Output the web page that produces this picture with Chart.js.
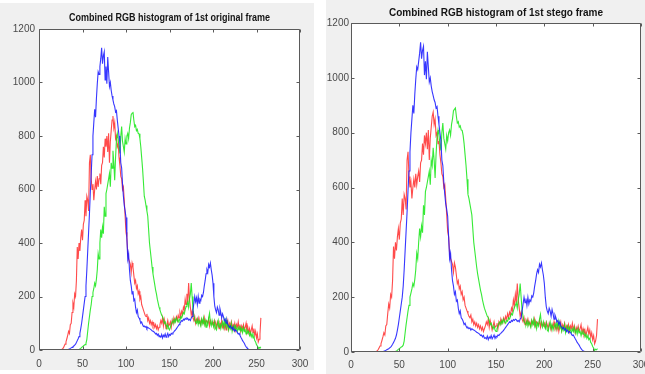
<!DOCTYPE html>
<html>
<head>
<meta charset="utf-8">
<script src="https://cdn.jsdelivr.net/npm/chart.js@4/dist/chart.umd.min.js"></script>
<style>
  html, body { margin: 0; padding: 0; background: #ffffff; width: 645px; height: 374px; overflow: hidden; }
  .panel { position: absolute; background: #f0f0f0; }
  #p1 { left: 0px; top: 3px; width: 314px; height: 367px; }
  #p2 { left: 326px; top: 0px; width: 319px; height: 374px; }
</style>
</head>
<body>
<div class="panel" id="p1"><canvas id="c1" width="314" height="367"></canvas></div>
<div class="panel" id="p2"><canvas id="c2" width="319" height="374"></canvas></div>
<script>
// ---- Data (pixel counts per intensity level 0..255) ----
const titles = ["Combined RGB histogram of 1st original frame", "Combined RGB histogram of 1st stego frame"];
const xTicks = [0, 50, 100, 150, 200, 250, 300];
const yTicks = [0, 200, 400, 600, 800, 1000, 1200];

const redCounts = [
  0,0,0,0,0,0,0,0,0,0, 0,0,0,0,0,0,0,0,0,0, 0,0,0,0,0,0,2,4,8,15,
  22,30,42,55,70,62,95,100,140,175, 160,210,200,260,385,340,400,370,420,450,
  410,470,485,560,500,575,560,520,700,730, 640,600,620,560,600,630,600,650,610,640,
  660,620,690,700,760,720,790,760,800,740, 810,700,780,820,860,875,830,850,790,800,
  760,770,720,690,650,640,600,610,560,500, 440,420,360,340,330,320,290,325,310,280,
  250,260,230,240,210,220,190,200,170,160, 150,140,130,125,135,110,120,100,110,95,
  105,90,100,85,95,80,90,75,85,95, 110,100,120,90,115,100,80,95,110,90,
  95,105,85,110,100,120,105,115,125,110, 130,120,140,125,145,135,160,150,190,170,
  210,180,250,190,160,130,145,120,110,125, 100,115,105,120,100,110,95,115,105,100,
  120,95,110,105,100,115,90,110,100,95, 105,90,110,100,85,105,95,80,100,90,
  110,85,95,80,100,75,95,110,80,100, 90,105,80,95,85,100,75,95,85,105,
  80,95,70,90,80,95,75,85,100,70, 85,65,80,60,75,90,65,80,55,70,
  45,60,30,40,60,120
];

const greenCounts = [
  0,0,0,0,0,0,0,0,0,0, 0,0,0,0,0,0,0,0,0,0, 0,0,0,0,0,0,0,0,0,0,
  0,0,0,0,0,0,0,0,0,0, 0,0,0,0,0,1,2,4,6,10,
  12,15,18,20,25,40,70,100,125,150, 170,200,215,230,250,240,265,300,360,340,
  400,450,420,460,435,535,500,585,600,620, 640,660,610,700,680,745,700,635,720,785,
  810,790,760,735,800,835,780,760,740,790, 770,800,810,790,830,850,880,885,890,860,
  835,840,820,825,810,808,790,760,720,680, 630,575,560,540,520,500,450,400,370,340,
  310,285,265,245,225,210,190,175,160,150, 140,130,125,115,100,105,93,85,95,80,
  75,85,95,105,110,100,115,105,120,110, 105,115,112,125,120,130,140,135,150,162,
  170,180,160,190,210,250,200,150,130,112, 105,100,115,95,110,100,90,115,100,120,
  95,110,85,105,95,120,137,100,90,110, 95,85,105,80,75,95,110,85,100,80,
  95,105,85,110,90,112,85,95,75,90, 80,100,70,85,95,75,90,80,70,85,
  75,90,70,80,65,85,70,75,60,75, 65,70,55,65,50,60,45,50,35,30,
  20,15,5,10,8,12
];

const blueCounts = [
  0,0,0,0,0,0,0,0,0,0, 0,0,0,0,0,0,0,0,0,0, 0,0,0,0,0,0,0,0,0,0,
  0,1,1,2,3,4,6,8,10,12, 15,18,22,28,35,42,50,62,80,100,
  125,150,175,200,240,300,370,440,510,590, 660,730,800,850,900,870,940,995,1040,1030,
  1060,1090,1130,1070,1100,1115,1010,1060,995,1095, 1040,985,1000,970,950,935,920,910,890,895,
  860,830,800,770,700,680,620,575,540,520, 495,420,340,360,300,260,240,210,220,185,
  190,160,140,150,125,120,112,100,105,95, 88,90,85,88,80,85,82,80,78,75,
  72,70,68,65,60,62,55,60,50,52, 48,58,45,55,50,60,48,55,62,50,
  58,55,62,60,65,68,72,75,80,85, 90,95,100,105,110,108,115,112,118,115,
  120,118,112,115,110,120,125,150,175,200, 180,195,170,200,175,190,185,205,200,215,
  240,260,285,300,290,320,310,325,300,280, 250,200,165,150,140,160,150,130,155,140,
  120,135,125,110,115,100,110,95,90,85, 90,80,85,75,80,70,75,72,65,60,
  62,55,48,42,35,30,25,18,12,8, 5,3,2,1,0,0,0,0,0,0,
  0,0,0,0,0,0
];

// ---- Chart setup ----
function pts(arr) { return arr.map((v, i) => ({ x: i, y: v })); }

const frameColor = '#5a5a5a';
const panelPlugin = {
  id: 'panelFrame',
  beforeDraw(chart) {
    const ctx = chart.ctx, a = chart.chartArea;
    ctx.save();
    ctx.fillStyle = '#f0f0f0';
    ctx.fillRect(0, 0, chart.width, chart.height);
    ctx.fillStyle = '#ffffff';
    ctx.fillRect(a.left, a.top, a.right - a.left, a.bottom - a.top);
    ctx.restore();
  },
  afterDraw(chart, args, opts) {
    const ctx = chart.ctx, a = chart.chartArea;
    const xs = chart.scales.x, ys = chart.scales.y;
    const L = Math.round(a.left) + 0.5, R = Math.round(a.right) - 0.5;
    const T = Math.round(a.top) + 0.5, B = Math.round(a.bottom) - 0.5;
    ctx.save();
    ctx.strokeStyle = frameColor;
    ctx.lineWidth = 1;
    ctx.beginPath();
    ctx.rect(L, T, R - L, B - T);
    const tl = 3;
    xs.ticks.forEach(t => {
      const px = Math.round(xs.getPixelForValue(t.value)) + 0.5;
      ctx.moveTo(px, B); ctx.lineTo(px, B - tl);
      ctx.moveTo(px, T); ctx.lineTo(px, T + tl);
    });
    ys.ticks.forEach(t => {
      const py = Math.round(ys.getPixelForValue(t.value)) + 0.5;
      ctx.moveTo(L, py); ctx.lineTo(L + tl, py);
      ctx.moveTo(R, py); ctx.lineTo(R - tl, py);
    });
    ctx.stroke();
    // title (condensed horizontally like the reference)
    ctx.font = "bold 10.5px 'Liberation Sans', Arial, sans-serif";
    ctx.fillStyle = '#141414';
    ctx.textAlign = 'center';
    ctx.textBaseline = 'alphabetic';
    const w = ctx.measureText(opts.text).width;
    const sx = opts.width / w;
    const cx = (a.left + a.right) / 2;
    ctx.translate(cx, opts.baseline);
    ctx.scale(sx, 1);
    ctx.fillText(opts.text, 0, 0);
    ctx.restore();
  }
};

const tickFont = { family: "'Liberation Sans', Arial, sans-serif", size: 10 };

function makeChart(canvasId, title, cfg) {
  new Chart(document.getElementById(canvasId), {
    type: 'line',
    data: {
      datasets: [
        { label: 'Blue', data: pts(blueCounts), borderColor: 'rgba(20,20,255,0.85)', borderWidth: 1.1, pointRadius: 0, tension: 0 },
        { label: 'Green', data: pts(greenCounts), borderColor: 'rgba(20,230,20,0.85)', borderWidth: 1.1, pointRadius: 0, tension: 0 },
        { label: 'Red', data: pts(redCounts), borderColor: 'rgba(255,30,30,0.8)', borderWidth: 1.1, pointRadius: 0, tension: 0 }
      ]
    },
    options: {
      responsive: false,
      animation: false,
      devicePixelRatio: 1,
      layout: { padding: { left: 0, right: cfg.padRight, top: cfg.padTop, bottom: 0 } },
      plugins: {
        legend: { display: false },
        tooltip: { enabled: false },
        title: { display: false },
        panelFrame: { text: title, width: cfg.titleWidth, baseline: cfg.titleBaseline }
      },
      scales: {
        x: {
          type: 'linear', min: 0, max: 300,
          afterBuildTicks(s) { s.ticks = xTicks.map(v => ({ value: v })); },
          afterFit(s) { s.height = cfg.xHeight; s.paddingLeft = 0; s.paddingRight = 0; },
          grid: { display: false, drawTicks: false },
          border: { display: false },
          ticks: { color: '#4a4a4a', font: tickFont, padding: cfg.xPad, maxRotation: 0, autoSkip: false, callback: v => String(v) }
        },
        y: {
          type: 'linear', min: 0, max: 1200,
          afterBuildTicks(s) { s.ticks = yTicks.map(v => ({ value: v })); },
          afterFit(s) { s.width = cfg.yWidth; s.paddingTop = 0; s.paddingBottom = 0; },
          grid: { display: false, drawTicks: false },
          border: { display: false },
          ticks: { color: '#4a4a4a', font: tickFont, padding: cfg.yPad, autoSkip: false, callback: v => String(v) }
        }
      }
    },
    plugins: [panelPlugin]
  });
}

makeChart('c1', titles[0], { padRight: 14, padTop: 26, xHeight: 20, yWidth: 39, xPad: 8, yPad: 4, titleWidth: 201, titleBaseline: 18 });
makeChart('c2', titles[1], { padRight: 4, padTop: 23, xHeight: 22, yWidth: 25, xPad: 7, yPad: 2, titleWidth: 214, titleBaseline: 15.5 });
</script>
</body>
</html>
